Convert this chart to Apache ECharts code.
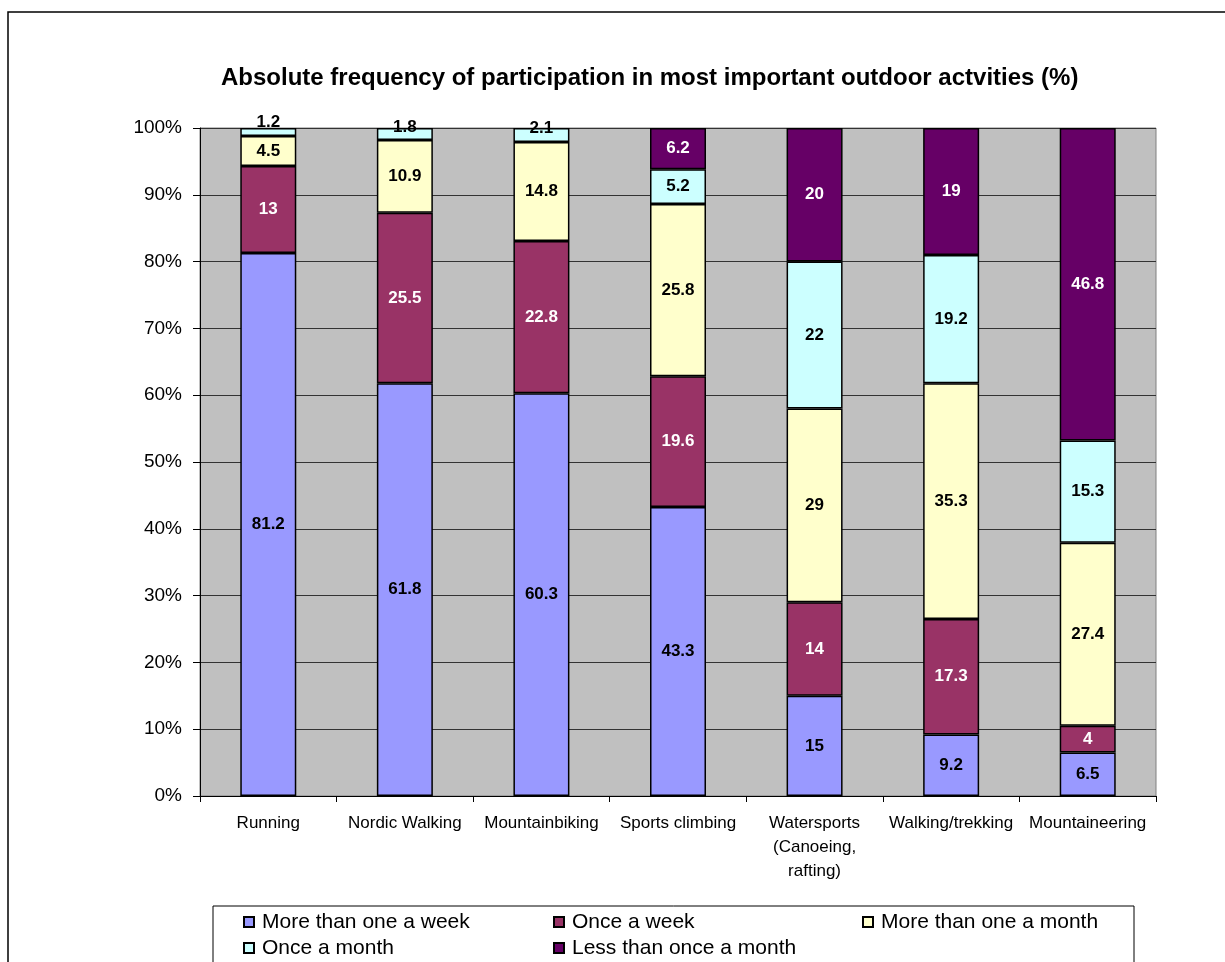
<!DOCTYPE html>
<html>
<head>
<meta charset="utf-8">
<script src="https://cdn.jsdelivr.net/npm/echarts@6/dist/echarts.min.js"></script>
<style>
html,body{margin:0;padding:0;background:#fff;}
#chart{width:1225px;height:962px;}
</style>
</head>
<body>
<div id="chart"></div>
<script>
var categories = ['Running', 'Nordic Walking', 'Mountainbiking', 'Sports climbing', 'Watersports\n(Canoeing,\nrafting)', 'Walking/trekking', 'Mountaineering'];
var seriesNames = ['More than one a week', 'Once a week', 'More than one a month', 'Once a month', 'Less than once a month'];
var moreThanOnceWeek = [81.2, 61.8, 60.3, 43.3, 15, 9.2, 6.5];
var onceWeek = [13, 25.5, 22.8, 19.6, 14, 17.3, 4];
var moreThanOnceMonth = [4.5, 10.9, 14.8, 25.8, 29, 35.3, 27.4];
var onceMonth = [1.2, 1.8, 2.1, 5.2, 22, 19.2, 15.3];
var lessThanOnceMonth = [0, 0, 0, 6.2, 20, 19, 46.8];
var yTicks = [0, 10, 20, 30, 40, 50, 60, 70, 80, 90, 100];

var colors = ['#9999FF', '#993366', '#FFFFCC', '#CCFFFF', '#660066'];
var labelColors = ['#000', '#fff', '#000', '#000', '#fff'];
var allValues = [moreThanOnceWeek, onceWeek, moreThanOnceMonth, onceMonth, lessThanOnceMonth];
var totals = categories.map(function (c, i) {
  return allValues.reduce(function (s, arr) { return s + arr[i]; }, 0);
});
var FONT = '"Liberation Sans", Arial, sans-serif';

var series = allValues.map(function (arr, si) {
  return {
    name: seriesNames[si],
    type: 'bar',
    stack: 'total',
    barWidth: '41%',
    itemStyle: { color: colors[si], borderColor: '#000', borderWidth: 1.5 },
    label: {
      show: true,
      position: 'inside',
      color: labelColors[si],
      fontFamily: FONT,
      fontWeight: 'bold',
      fontSize: 17,
      formatter: function (p) { return arr[p.dataIndex] ? String(arr[p.dataIndex]) : ''; }
    },
    data: arr.map(function (v, i) {
      if (!v) return null;
      var item = { value: v / totals[i] * 100 };
      if (v < 3) {
        item.label = { offset: [0, v < 1.5 ? -10 : -7] };
      }
      return item;
    })
  };
});

// legend layout: [seriesIndex, left, top]
var legendSlots = [[0, 243, 911], [1, 553, 911], [2, 862, 911], [3, 243, 937], [4, 553, 937]];
var legends = legendSlots.map(function (s) {
  return {
    data: [seriesNames[s[0]]], left: s[1], top: s[2], padding: 0,
    itemWidth: 10, itemHeight: 10, icon: 'rect', selectedMode: false,
    textStyle: { fontFamily: FONT, fontSize: 21, color: '#000', lineHeight: 22, padding: [0, 0, 0, 3] }
  };
});

var chart = echarts.init(document.getElementById('chart'), null, { renderer: 'canvas' });
chart.setOption({
  animation: false,
  backgroundColor: '#fff',
  title: {
    text: 'Absolute frequency of participation in most important outdoor actvities (%)',
    left: 221,
    top: 66,
    padding: 0,
    textStyle: { fontFamily: FONT, fontWeight: 'bold', fontSize: 24, color: '#000' }
  },
  grid: { left: 200, right: 69, top: 128, bottom: 166, show: true, backgroundColor: '#C0C0C0', borderColor: '#808080', borderWidth: 1 },
  xAxis: {
    type: 'category',
    data: categories,
    axisLine: { lineStyle: { color: '#000', width: 1 } },
    axisTick: { show: true, length: 6, alignWithLabel: false, lineStyle: { color: '#000' } },
    axisLabel: { margin: 15, fontFamily: FONT, fontSize: 17, color: '#000', lineHeight: 24, interval: 0 }
  },
  yAxis: {
    type: 'value',
    min: 0,
    max: 100,
    interval: 10,
    axisLine: { show: true, lineStyle: { color: '#000', width: 1 } },
    axisTick: { show: true, length: 7, lineStyle: { color: '#000' } },
    axisLabel: {
      margin: 18, fontFamily: FONT, fontSize: 19, color: '#000',
      formatter: function (v) { return yTicks.indexOf(v) >= 0 ? v + '%' : ''; }
    },
    splitLine: { show: true, lineStyle: { color: '#333', width: 1 } }
  },
  legend: legends,
  graphic: [
    { type: 'rect', z: -10, silent: true, shape: { x: 8, y: 12, width: 1300, height: 1000 },
      style: { fill: 'none', stroke: '#000', lineWidth: 1.5 } },
    { type: 'rect', silent: true, shape: { x: 213, y: 906, width: 921, height: 100 },
      style: { fill: 'none', stroke: '#000', lineWidth: 1 } }
  ],
  series: series
});
</script>
</body>
</html>
